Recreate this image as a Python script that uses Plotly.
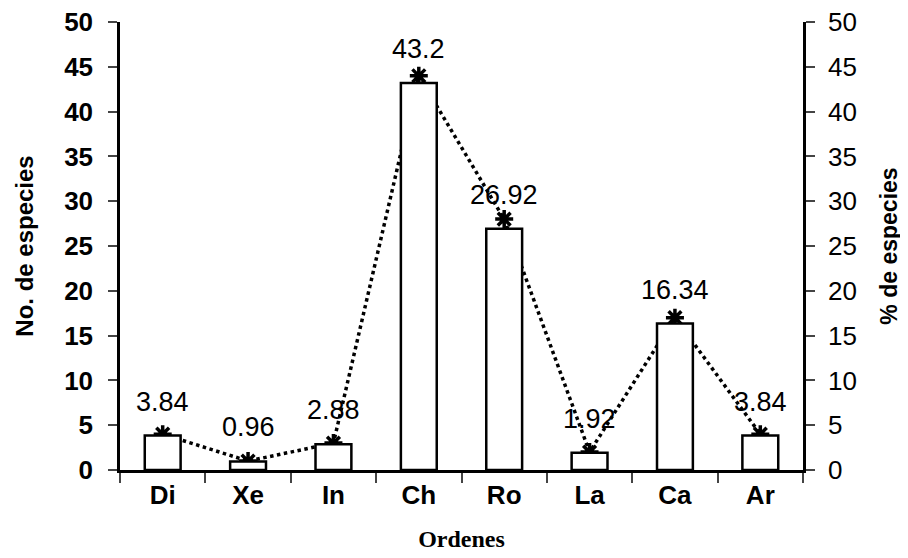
import plotly.graph_objects as go

categories = ["Di", "Xe", "In", "Ch", "Ro", "La", "Ca", "Ar"]
pct_values = [3.84, 0.96, 2.88, 43.2, 26.92, 1.92, 16.34, 3.84]
species_counts = [4, 1, 3, 44, 28, 2, 17, 4]
y_ticks = [0, 5, 10, 15, 20, 25, 30, 35, 40, 45, 50]

FONT = "Liberation Sans, Arial"

fig = go.Figure()
fig.add_trace(go.Bar(
    x=categories, y=pct_values, yaxis="y2",
    marker=dict(color="white", line=dict(color="black", width=2.5)),
    width=0.42, showlegend=False,
))
fig.add_trace(go.Scatter(
    x=categories, y=species_counts, yaxis="y",
    mode="lines+markers",
    line=dict(color="black", width=3.5, dash="dot"),
    marker=dict(symbol="asterisk-open", size=15, color="black", line=dict(color="black", width=3.5)),
    showlegend=False, cliponaxis=False,
))

for c, p in zip(categories, pct_values):
    fig.add_annotation(
        x=c, y=p, xref="x", yref="y2", yshift=34, showarrow=False,
        text=f"{p:g}", yanchor="middle",
        font=dict(family=FONT, size=27, color="black"),
    )

fig.update_layout(
    width=908, height=558,
    margin=dict(l=112, r=113, t=14, b=96, autoexpand=False),
    paper_bgcolor="white", plot_bgcolor="white",
    font=dict(family=FONT, color="black"),
    xaxis=dict(
        type="category", tickson="boundaries", ticks="outside", ticklen=10, tickwidth=2,
        showline=True, linecolor="black", linewidth=2.5, showgrid=False,
        tickfont=dict(size=26, family=FONT, weight="bold"),
        title=dict(text="Ordenes", font=dict(family="Liberation Serif, Times New Roman", size=24, weight="bold"), standoff=22),
        range=[-0.5, 7.5],
    ),
    yaxis=dict(
        range=[0, 50], tickvals=y_ticks, ticks="outside", ticklen=9, tickwidth=2,
        showline=True, linecolor="black", linewidth=2.5, showgrid=False, zeroline=False,
        tickfont=dict(size=26, family=FONT, weight="bold"), ticklabelstandoff=10,
        ticklabeloverflow="allow",
        title=dict(text="No. de especies", font=dict(size=24, family=FONT, weight="bold"), standoff=24),
    ),
    yaxis3=dict(
        range=[0, 50], tickvals=y_ticks, overlaying="y", side="left", anchor="x",
        ticks="inside", ticklen=9, tickwidth=2, showticklabels=False,
        showline=False, showgrid=False, zeroline=False,
    ),
    yaxis2=dict(
        range=[0, 50], tickvals=y_ticks, overlaying="y", side="right",
        ticks="outside", ticklen=9, tickwidth=2,
        showline=True, linecolor="black", linewidth=2.5, showgrid=False, zeroline=False,
        tickfont=dict(size=26, family=FONT), ticklabelstandoff=8,
        ticklabeloverflow="allow",
        title=dict(text="% de especies", font=dict(size=23, family=FONT, weight="bold"), standoff=26),
    ),
)

fig.write_html("out.html")
